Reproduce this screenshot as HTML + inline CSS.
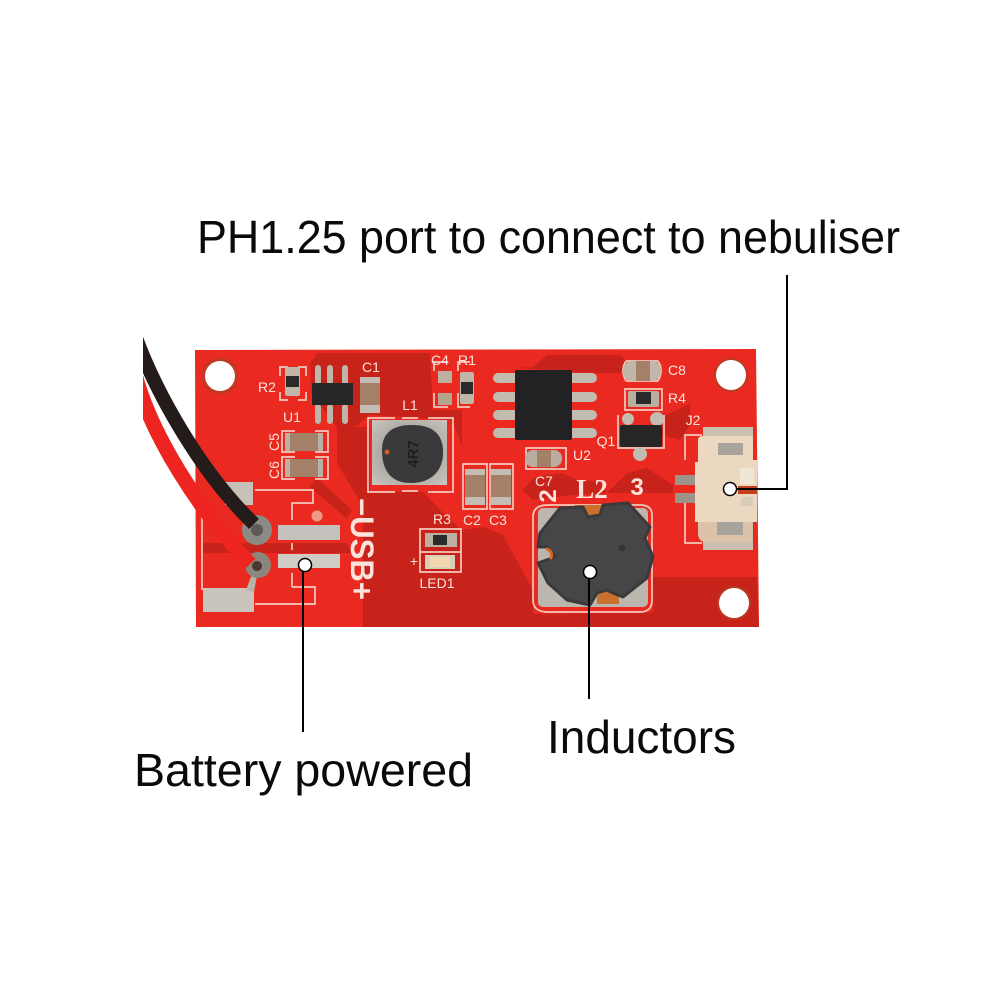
<!DOCTYPE html>
<html><head><meta charset="utf-8"><style>html,body{margin:0;padding:0;background:#fff}svg{display:block}text{font-family:"Liberation Sans",sans-serif}</style></head><body>
<svg width="1000" height="1000" viewBox="0 0 1000 1000" xmlns="http://www.w3.org/2000/svg">
<defs>
<clipPath id="wc"><rect x="143" y="300" width="200" height="320"/></clipPath>
<radialGradient id="metal" cx=".5" cy=".5" r=".7"><stop offset="0" stop-color="#8f8a84"/><stop offset="1" stop-color="#c9c5bf"/></radialGradient>
<g id="capH"><rect x="-19" y="-9" width="38" height="18" rx="2" fill="#a58069"/><rect x="-19" y="-9" width="5" height="18" fill="#b9b0a6"/><rect x="14" y="-9" width="5" height="18" fill="#b9b0a6"/></g>
<g id="capV"><rect x="-10" y="-18" width="20" height="36" rx="2" fill="#a58069"/><rect x="-10" y="-18" width="20" height="6" fill="#c4bcb2"/><rect x="-10" y="10" width="20" height="8" fill="#c4bcb2"/></g>
</defs>

<!-- board -->
<path d="M195 350 L756 349 L759 627 L196 627 Z" fill="#ea2a20"/>
<!-- dark copper zones -->
<g fill="#c8231b">
<path d="M337 427L370 427L370 492L423 492L450 520L462 530L485 527L503 535L533 590L533 614L653 612L653 577L757 577L759 627L363 627L363 507L337 463Z"/>
<path d="M317 353L430 353L433 410L462 410L462 445L452 420L370 415L355 427L337 427L312 395L310 363Z"/>
<path d="M533 367L547 355L620 355L628 363L620 373L597 373L515 368Z"/>
<path d="M663 417L690 403L690 425L680 440L662 435Z"/>
<path d="M522 490L535 477L562 473L578 480L600 482L607 493L573 495L533 500Z"/>
<path d="M607 493L627 473L647 468L673 485L673 493L640 493Z"/>
<path d="M310 487L347 519L352 510L317 478Z"/>
<path d="M203 543L347 543L352 553L203 553Z"/>
</g>

<!-- silkscreen -->
<g fill="none" stroke="#f6c9bd" stroke-width="1.7">
<path d="M288 367h-8v9M298 367h8v9M280 392v8h8M306 392v8h-8"/>
<path d="M202 517V590"/>
<path d="M255 490H313V503H292V520M292 543v7M292 573v14M292 587H315V604H255"/>
<path d="M295 431h-13v21h13M315 431h13v21h-13M295 457h-13v22h13M315 457h13v22h-13"/>
<path d="M395 418H368V492H395M428 418H453V492H428M402 418h16M402 491h16"/>
<path d="M434 371v-9h14M458 371v-9h12M434 393v14h14M458 393v14h12"/>
<path d="M420 529V572H461V529ZM420 552H461"/>
<path d="M463 464H487V509H463ZM490 464H513V509H490Z"/>
<path d="M626 361Q620 370 626 381M658 361Q664 370 658 381M626 361h32M626 381h32"/>
<path d="M625 389h37v21h-37z"/>
<path d="M618 415v33h46v-33"/>
<path d="M702 435h-17v25M685 500v43h17"/>
<path d="M526 448h40v21h-40z"/>
<path d="M548 505H640Q652 505 652 515V600Q652 612 640 612H548Q533 612 533 600V517Q533 505 548 505Z"/>
</g>
<circle cx="317" cy="516" r="5.5" fill="#ec9a88"/>

<g fill="#fbe3dc" font-size="14" text-anchor="middle">
<text x="267" y="392">R2</text><text x="292" y="422">U1</text><text x="371" y="372">C1</text>
<text x="440" y="365">C4</text><text x="467" y="365">R1</text><text x="410" y="410">L1</text>
<text x="442" y="524">R3</text><text x="437" y="588">LED1</text><text x="472" y="525">C2</text><text x="498" y="525">C3</text>
<text x="544" y="486">C7</text><text x="582" y="460">U2</text><text x="606" y="446">Q1</text>
<text x="677" y="375">C8</text><text x="677" y="403">R4</text><text x="693" y="425">J2</text>
<text x="414" y="566">+</text>
<text transform="translate(279 442) rotate(-90)">C5</text><text transform="translate(279 470) rotate(-90)">C6</text>
<text x="592" y="498" font-size="27" font-weight="bold" style="font-family:'Liberation Serif',serif">L2</text>
<text transform="translate(556 496) rotate(-90)" font-size="24" font-weight="bold">2</text>
<text x="637" y="495" font-size="24" font-weight="bold">3</text>
<text transform="translate(351 549) rotate(90)" font-size="32" font-weight="bold" textLength="102" lengthAdjust="spacingAndGlyphs">−USB+</text>
</g>

<!-- mounting holes -->
<circle cx="220" cy="376" r="18" fill="#bd3a25"/><circle cx="220" cy="376" r="15" fill="#fff"/>
<circle cx="731" cy="375" r="17" fill="#b83c22"/><circle cx="731" cy="375" r="15" fill="#fff"/>
<circle cx="734" cy="603" r="17" fill="#b83c22"/><circle cx="734" cy="603" r="15" fill="#fff"/>

<!-- R2 -->
<rect x="285" y="367" width="15" height="29" rx="2" fill="#c0b6aa"/><rect x="286" y="376" width="13" height="11" fill="#2a2a2a"/>
<!-- U1 -->
<g stroke="#bfb6aa" stroke-width="6" stroke-linecap="round"><path d="M318 368v14M330 368v14M345 368v14M318 407v14M330 407v14M345 407v14"/></g>
<rect x="312" y="383" width="41" height="22" fill="#262626"/>
<!-- C1 -->
<use href="#capV" x="370" y="395"/>
<!-- C4 and R1 -->
<rect x="438" y="371" width="14" height="12" fill="#bdb0a0"/><rect x="438" y="393" width="14" height="12" fill="#b5a48e"/>
<rect x="460" y="372" width="14" height="32" rx="2" fill="#bfb5a8"/><rect x="461" y="382" width="12" height="12" fill="#2a2a2a"/>
<!-- C5 C6 -->
<use href="#capH" x="304" y="442"/><use href="#capH" x="304" y="468"/>
<!-- L1 -->
<rect x="372" y="420" width="75" height="65" fill="url(#metal)"/>
<path d="M382 450C382 431 395 425 412 425S442 431 443 450C444 472 430 483 411 483S382 472 382 450Z" fill="#3a3a3c"/>
<circle cx="387" cy="452" r="2.5" fill="#d35a1c"/>
<text transform="translate(418 454) rotate(-90)" font-size="15" font-weight="bold" fill="#1f1f1f" text-anchor="middle">4R7</text>
<!-- U2 -->
<g stroke="#c2bbb0" stroke-width="10" stroke-linecap="round"><path d="M498 378h18M498 397h18M498 415h18M498 433h18M572 378h20M572 397h20M572 415h20M572 433h20"/></g>
<rect x="515" y="370" width="57" height="70" rx="2" fill="#222224"/>
<!-- C2 C3 -->
<use href="#capV" x="475" y="487"/><use href="#capV" x="501" y="487"/>
<!-- C7 -->
<rect x="525" y="450" width="37" height="17" rx="8" fill="#b8ad9f"/><rect x="537" y="450" width="14" height="17" fill="#a58069"/>
<!-- C8 -->
<rect x="623" y="361" width="38" height="20" rx="9" fill="#c0b7aa"/><rect x="636" y="361" width="14" height="20" fill="#a58069"/>
<!-- R4 -->
<rect x="628" y="391" width="31" height="16" rx="2" fill="#b9ae9f"/><rect x="636" y="392" width="15" height="12" fill="#2a2a2a"/>
<!-- Q1 -->
<circle cx="628" cy="419" r="6" fill="#c3bcb0"/><circle cx="657" cy="419" r="7" fill="#c3bcb0"/><circle cx="640" cy="454" r="7" fill="#c3bcb0"/>
<rect x="620" y="425" width="42" height="22" rx="2" fill="#262626"/>
<!-- LED / R3 -->
<rect x="425" y="533" width="32" height="14" fill="#bdb2a2"/><rect x="433" y="535" width="14" height="10" fill="#2a2a2a"/>
<rect x="425" y="555" width="30" height="14" fill="#d8cdb8"/><rect x="430" y="557" width="20" height="10" fill="#f2d9b0"/>
<!-- test pads -->
<rect x="278" y="525" width="62" height="15" fill="#c5c2bd"/>
<rect x="278" y="554" width="62" height="14" fill="#cfcbc5"/>
<rect x="203" y="588" width="51" height="24" fill="#c9c4bc"/>
<rect x="225" y="482" width="28" height="23" fill="#c7c0b6"/>
<path d="M246 590L252 574L257 576L254 592Z" fill="#b8b2a8"/>
<!-- J2 connector -->
<rect x="703" y="427" width="50" height="123" fill="#c9c0b0"/>
<rect x="675" y="475" width="23" height="10" fill="#9c9488"/><rect x="675" y="493" width="23" height="10" fill="#9c9488"/>
<path d="M698 440Q698 436 703 436H753V460H757V522H752V543H710Q698 543 698 533V522H695V462H698Z" fill="#ecd8c0"/>
<path d="M698 522H752V543H710Q698 543 698 533Z" fill="#dcc2a8"/>
<rect x="718" y="443" width="25" height="12" fill="#a8a49c"/><rect x="717" y="522" width="26" height="13" fill="#a8a49c"/>
<rect x="740" y="468" width="14" height="16" fill="#f0e6d6"/><rect x="741" y="497" width="12" height="9" fill="#d8cdb8"/>
<path d="M738 486h19v8h-19z" fill="#c2401c"/>

<!-- L2 inductor -->
<rect x="538" y="508" width="110" height="99" rx="5" fill="#bcb7ae"/>
<path d="M575 505h30v15h-30zM597 590h22v14h-22z" fill="#c9712c"/>
<path d="M560 508L583 507L588 517L600 515L603 505L628 503L650 527L645 538L653 557L647 578L623 597L613 593L607 590L597 593L590 605L567 600L548 583L538 563L555 557L547 547L538 547L540 533Z" fill="#464648" stroke="#3a3a3c" stroke-width="3" stroke-linejoin="round"/>
<path d="M546 549a6 6 0 0 1 4 10" fill="none" stroke="#d9671e" stroke-width="3"/>
<circle cx="622" cy="548" r="3.5" fill="#353537"/>

<!-- wires -->
<circle cx="258" cy="565" r="13" fill="#8c867c"/><circle cx="257" cy="566" r="5" fill="#4a3830"/>
<circle cx="257" cy="530" r="15" fill="#8c8a84"/><circle cx="257" cy="530" r="6" fill="#5c5a54"/>
<g clip-path="url(#wc)" fill="none" stroke-linecap="butt">
<path d="M136 378 C152 435 197 508 250 564" stroke="#ee2420" stroke-width="15"/>
<path d="M136 338 C156 392 200 472 254 524" stroke="#231c1b" stroke-width="14"/>
</g>

<!-- callouts -->
<g stroke="#000" stroke-width="2" fill="none"><path d="M787 275V489H737"/><path d="M303 571V732"/><path d="M589 578V699"/></g>
<g fill="#fff" stroke="#000" stroke-width="1.5"><circle cx="730" cy="489" r="6.5"/><circle cx="305" cy="565" r="6.5"/><circle cx="590" cy="572" r="6.5"/></g>

<g fill="#0a0a0a" font-size="46">
<text x="197" y="253" textLength="703" lengthAdjust="spacingAndGlyphs">PH1.25 port to connect to nebuliser</text>
<text x="134" y="786" textLength="339" lengthAdjust="spacingAndGlyphs">Battery powered</text>
<text x="547" y="753" textLength="189" lengthAdjust="spacingAndGlyphs">Inductors</text>
</g>
</svg>
</body></html>
